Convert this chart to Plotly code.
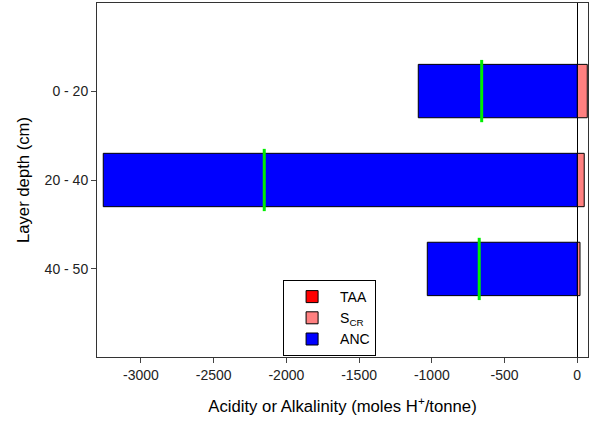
import plotly.graph_objects as go

layers = ["0 - 20", "20 - 40", "40 - 50"]
taa = [0, 0, 0]
scr = [69, 48, 19]
anc = [-1093, -3259, -1031]
marker_vals = [-657, -2152, -674]
x_ticks = [-3000, -2500, -2000, -1500, -1000, -500, 0]
x_tick_text = ["-3000", "-2500", "-2000", "-1500", "-1000", "-500", "0"]

pos = list(range(len(layers)))

fig = go.Figure()
fig.add_trace(go.Bar(y=pos, x=taa, orientation="h", name="TAA", width=0.6,
                     marker=dict(color="#ff0000", line=dict(color="black", width=1))))
fig.add_trace(go.Bar(y=pos, x=scr, orientation="h", name="S<sub>CR</sub>", width=0.6,
                     marker=dict(color="#ff8080", line=dict(color="black", width=1))))
fig.add_trace(go.Bar(y=pos, x=anc, orientation="h", name="ANC", width=0.6,
                     marker=dict(color="#0000ff", line=dict(color="black", width=1))))

gx, gy = [], []
for p, v in zip(pos, marker_vals):
    gx += [v, v, None]
    gy += [p - 0.35, p + 0.35, None]
fig.add_trace(go.Scatter(x=gx, y=gy, mode="lines", line=dict(color="#00ee00", width=3),
                         showlegend=False, hoverinfo="skip"))

fig.update_layout(
    width=595, height=425,
    margin=dict(l=97, r=7, t=3, b=68),
    barmode="relative",
    plot_bgcolor="white", paper_bgcolor="white",
    font=dict(family="Liberation Sans, Arial, sans-serif", size=14, color="black"),
    showlegend=True,
    legend=dict(x=0.379, y=0.2175, xanchor="left", yanchor="top",
                bordercolor="black", borderwidth=1, bgcolor="white",
                font=dict(size=14), tracegroupgap=0, itemwidth=46),
    xaxis=dict(range=[-3302, 74], tickvals=x_ticks, ticktext=x_tick_text,
               ticks="outside", ticklen=5, tickfont=dict(size=14, color="#222"),
               showgrid=False, showline=True, linecolor="#333", mirror=True,
               zeroline=True, zerolinecolor="black", zerolinewidth=1,
               title=dict(text="Acidity or Alkalinity (moles H<sup>+</sup>/tonne)",
                          font=dict(size=16.7), standoff=18)),
    yaxis=dict(range=[2.99, -0.99], tickvals=pos, ticktext=layers, ticks="outside",
               ticklen=5, tickfont=dict(size=14, color="#222"), showgrid=False,
               showline=True, linecolor="#333", mirror=True, zeroline=False,
               title=dict(text="Layer depth (cm)", font=dict(size=16.7), standoff=10)),
)

fig.write_html("out.html")
